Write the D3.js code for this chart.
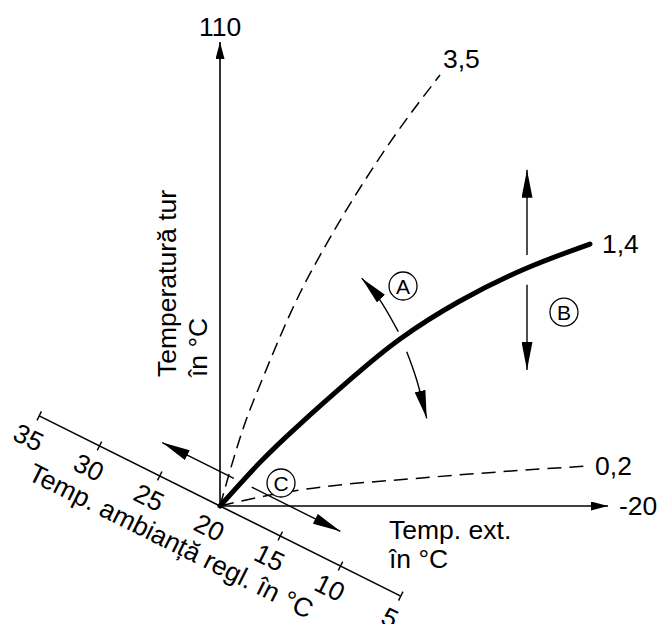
<!DOCTYPE html>
<html><head><meta charset="utf-8">
<script src="https://cdn.jsdelivr.net/npm/d3@7"></script>
<style>html,body{margin:0;padding:0;background:#fff}svg{display:block}</style>
</head><body>
<script>
// ---- data ----
const curveLabels = ["3,5", "1,4", "0,2"];
const curve35Outdoor = [20, 17.42, 15.67, 11.75, 9.38, 5.57, 2.16, -2.68];
const curve35Flow    = [20, 36.10, 44.44, 61.31, 69.65, 81.68, 91.37, 103.59];
const curve14Outdoor = [20, 15.88, 11.75, 6.39, 1.44, -4.74, -11.65, -18.14];
const curve14Flow    = [20, 28.46, 35.90, 44.83, 52.39, 59.76, 66.16, 70.81];
const curve02Outdoor = [20, 15.88, 11.75, -1.96, -17.84];
const curve02Flow    = [20, 21.75, 23.10, 25.62, 27.76];
const outdoorDomain = [20, -20];
const flowDomain = [20, 110];
const roomDomain = [20, 5];
const roomTicks = [35, 30, 25, 20, 15, 10, 5];
const flowMaxLabel = "110";
const outdoorMaxLabel = "-20";
const yTitle = ["Temperatură tur", "în °C"];
const xTitle = ["Temp. ext.", "în °C"];
const roomTitle = "Temp. ambianță regl. în °C";
// annotation anchors in data units
const markA = {label: "A", outdoor: 1.13, flow: 62.67};
const markB = {label: "B", outdoor: -15.46, flow: 57.6};
const markC = {label: "C", outdoor: 13.71, flow: 24.46};
const arrowAUpOutdoor = [1.62, 3.51, 5.39];
const arrowAUpFlow    = [53.81, 59.95, 64.16];
const arrowADownOutdoor = [0.75, -0.28, -1.31];
const arrowADownFlow    = [49.93, 44.44, 37.01];
const arrowBOutdoor = -11.65;
const arrowBUpFlow = [68.7, 85.2];
const arrowBDownFlow = [62.9, 46.4];
const arrowRoomUp = [20, 25.94];     // room temp along diagonal
const arrowRoomDown = [18.52, 11.16];

// ---- drawing ----
const W = 658, H = 624;
const FONT = "'Liberation Sans', Arial, Helvetica, sans-serif";
const FS = 26.5;
const svg = d3.select("body").append("svg").attr("width", W).attr("height", H)
  .style("font-family", FONT);

const x = d3.scaleLinear().domain(outdoorDomain).range([220, 608]);
const y = d3.scaleLinear().domain(flowDomain).range([506, 42]);
const ox = x(20), oy = y(20);
const ang = 26.5 * Math.PI / 180;
const ux = Math.cos(ang), uy = Math.sin(ang);
const nx = -uy, ny = ux;
const along = d3.scaleLinear().domain(roomDomain).range([0, 202]);
const diag = (t, n) => [ox + along(t) * ux + n * nx, oy + along(t) * uy + n * ny];

const defs = svg.append("defs");
function marker(id, len, wid) {
  defs.append("marker").attr("id", id)
    .attr("viewBox", `0 ${-wid/2} ${len} ${wid}`)
    .attr("refX", len).attr("refY", 0)
    .attr("markerWidth", len).attr("markerHeight", wid)
    .attr("markerUnits", "userSpaceOnUse").attr("orient", "auto")
    .append("path").attr("d", `M0,${-wid/2}L${len},0L0,${wid/2}Z`).attr("fill", "#000");
}
marker("axArrow", 17, 9);
marker("bigArrow", 28, 11);

const lineNat = d3.line().x(d => x(d[0])).y(d => y(d[1])).curve(d3.curveNatural);
const lineMono = d3.line().x(d => x(d[0])).y(d => y(d[1])).curve(d3.curveMonotoneX);
const zip = (a, b) => a.map((v, i) => [v, b[i]]);

// axes
svg.append("line").attr("x1", ox).attr("y1", oy).attr("x2", ox).attr("y2", y(110))
  .attr("stroke", "#000").attr("stroke-width", 1.6).attr("marker-end", "url(#axArrow)");
svg.append("line").attr("x1", ox).attr("y1", oy).attr("x2", x(-20)).attr("y2", oy)
  .attr("stroke", "#000").attr("stroke-width", 1.6).attr("marker-end", "url(#axArrow)");
svg.append("text").attr("x", ox).attr("y", y(110) - 6).attr("text-anchor", "middle")
  .attr("font-size", FS).text(flowMaxLabel);
svg.append("text").attr("x", x(-20) + 11).attr("y", oy).attr("dy", "0.35em")
  .attr("font-size", FS).text(outdoorMaxLabel);

// diagonal room-temperature axis
const d0 = diag(35, 0), d1 = diag(5, 0);
svg.append("line").attr("x1", d0[0]).attr("y1", d0[1]).attr("x2", d1[0]).attr("y2", d1[1])
  .attr("stroke", "#000").attr("stroke-width", 1.6);
roomTicks.filter(t => t !== 20).forEach(t => {
  const a = diag(t, -5), b = diag(t, 5);
  svg.append("line").attr("x1", a[0]).attr("y1", a[1]).attr("x2", b[0]).attr("y2", b[1])
    .attr("stroke", "#000").attr("stroke-width", 1.4);
});
roomTicks.forEach(t => {
  const p = diag(t, 24);
  svg.append("text").attr("transform", `translate(${p[0]},${p[1]}) rotate(26.5)`)
    .attr("text-anchor", "middle").attr("dy", "0.35em").attr("font-size", FS).text(t);
});
{
  const p = diag(22.1, 53);
  svg.append("text").attr("transform", `translate(${p[0]},${p[1]}) rotate(26.5)`)
    .attr("text-anchor", "middle").attr("dy", "0.35em").attr("font-size", FS).text(roomTitle);
}

// axis titles
svg.append("text").attr("transform", `translate(176,377) rotate(-90)`)
  .attr("font-size", FS).text(yTitle[0]);
svg.append("text").attr("transform", `translate(207,377) rotate(-90)`)
  .attr("font-size", FS).text(yTitle[1]);
svg.append("text").attr("x", 389).attr("y", 539).attr("font-size", FS).text(xTitle[0]);
svg.append("text").attr("x", 389).attr("y", 568).attr("font-size", FS).text(xTitle[1]);

// heating curves
const c35 = zip(curve35Outdoor, curve35Flow);
const c14 = zip(curve14Outdoor, curve14Flow);
const c02 = zip(curve02Outdoor, curve02Flow);
svg.append("path").attr("d", lineMono(c35)).attr("fill", "none").attr("stroke", "#000")
  .attr("stroke-width", 1.5).attr("stroke-dasharray", "13,7");
svg.append("path").attr("d", lineMono(c02)).attr("fill", "none").attr("stroke", "#000")
  .attr("stroke-width", 1.5).attr("stroke-dasharray", "14,8");
svg.append("path").attr("d", lineNat(c14)).attr("fill", "none").attr("stroke", "#000")
  .attr("stroke-width", 5).attr("stroke-linecap", "round");
const e35 = c35[c35.length - 1], e14 = c14[c14.length - 1], e02 = c02[c02.length - 1];
svg.append("text").attr("x", x(e35[0]) + 3).attr("y", y(e35[1]) - 7).attr("font-size", FS).text(curveLabels[0]);
svg.append("text").attr("x", x(e14[0]) + 12).attr("y", y(e14[1])).attr("dy", "0.35em").attr("font-size", FS).text(curveLabels[1]);
svg.append("text").attr("x", x(e02[0]) + 8).attr("y", y(e02[1])).attr("dy", "0.35em").attr("font-size", FS).text(curveLabels[2]);

// annotation arrows
[zip(arrowAUpOutdoor, arrowAUpFlow), zip(arrowADownOutdoor, arrowADownFlow)].forEach(pts => {
  svg.append("path").attr("d", lineNat(pts)).attr("fill", "none").attr("stroke", "#000")
    .attr("stroke-width", 1.4).attr("marker-end", "url(#bigArrow)");
});
[arrowBUpFlow, arrowBDownFlow].forEach(f => {
  svg.append("line").attr("x1", x(arrowBOutdoor)).attr("y1", y(f[0]))
    .attr("x2", x(arrowBOutdoor)).attr("y2", y(f[1]))
    .attr("stroke", "#000").attr("stroke-width", 1.4).attr("marker-end", "url(#bigArrow)");
});
[arrowRoomUp, arrowRoomDown].forEach(r => {
  const a = diag(r[0], -31), b = diag(r[1], -31);
  svg.append("line").attr("x1", a[0]).attr("y1", a[1]).attr("x2", b[0]).attr("y2", b[1])
    .attr("stroke", "#000").attr("stroke-width", 1.4).attr("marker-end", "url(#bigArrow)");
});

// circled markers
[markA, markB, markC].forEach(m => {
  const g = svg.append("g").attr("transform", `translate(${x(m.outdoor)},${y(m.flow)})`);
  g.append("circle").attr("r", 14).attr("fill", "#fff").attr("stroke", "#000").attr("stroke-width", 1.3);
  g.append("text").attr("text-anchor", "middle").attr("dy", "0.36em").attr("font-size", 21).text(m.label);
});
</script>
</body></html>
